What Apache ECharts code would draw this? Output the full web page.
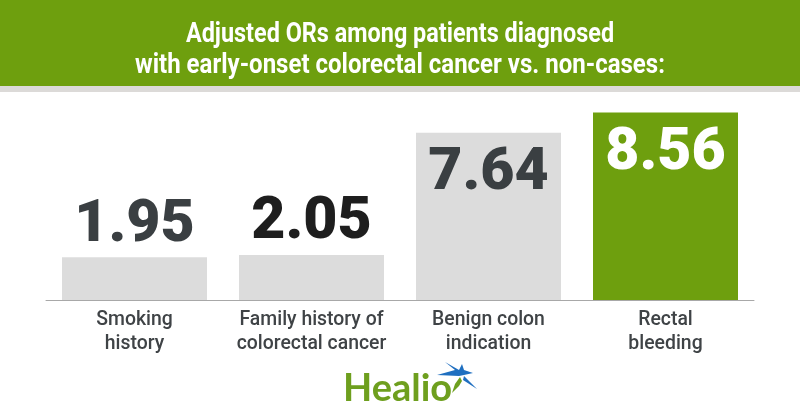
<!DOCTYPE html>
<html><head><meta charset="utf-8">
<style>html,body{margin:0;padding:0;background:#fff}#c{width:800px;height:419px}</style>
<script src="https://cdn.jsdelivr.net/npm/echarts@6/dist/echarts.min.js"></script>
</head><body><div id="c"></div>
<script>
const categories = ['Smoking\nhistory','Family history of\ncolorectal cancer','Benign colon\nindication','Rectal\nbleeding'];
const values = [1.95,2.05,7.64,8.56];
const barColors = ['#dcdcdc','#dcdcdc','#dcdcdc','#6e9f0e'];
const labelColors = ['#3a3f42','#1e1e1e','#3a3f42','#ffffff'];
const titleLines = ['Adjusted ORs among patients diagnosed','with early-onset colorectal cancer vs. non-cases:'];
const chart = echarts.init(document.getElementById('c'),null,{renderer:'canvas'});
const titleText = (t,y,sx)=>({type:'text',x:400,y,scaleX:sx,z:10,
  style:{text:t,fill:'#fff',font:'700 27.5px Roboto',textAlign:'center',textVerticalAlign:'middle'}});
chart.setOption({
  animation:false,
  backgroundColor:'#fff',
  grid:{left:46,right:46,top:112.5,height:187.5},
  xAxis:{type:'category',data:categories,
    axisLine:{lineStyle:{color:'#a8a8a8',width:1}},axisTick:{show:false},
    axisLabel:{color:'#3f4346',fontFamily:'Roboto',fontSize:19.4,lineHeight:24,margin:8,interval:0,fontWeight:500}},
  yAxis:{type:'value',min:0,max:8.56,show:false,splitLine:{show:false}},
  series:[{type:'bar',barWidth:145,silent:true,
    data:values.map((v,i)=>({value:v,itemStyle:{color:barColors[i]},
      label:{show:true,position:i>=2?'insideTop':'top',distance:i>=2?12:2,
        color:labelColors[i],fontFamily:'Roboto',fontWeight:900,fontSize:59,
        formatter:v.toFixed(2)}}))}],
  graphic:[
    {type:'rect',shape:{x:0,y:0,width:800,height:86},style:{fill:'#6e9f0e'},z:5},
    {type:'rect',shape:{x:0,y:86,width:800,height:6},style:{fill:'#dcdad8'},z:5},
    titleText(titleLines[0],35,0.852),
    titleText(titleLines[1],66,0.873),
    {type:'text',x:343,y:370,z:10,style:{text:'Healio',fill:'#6e9f1e',font:'700 38px Lato',textVerticalAlign:'top'}},
    {type:'polygon',z:11,shape:{points:[[445,362],[459,370],[462,364],[464,370],[473,373],[464,375],[459,376],[437,375],[455,370]]},style:{fill:'#1f6fc0'}},
    {type:'polygon',z:11,shape:{points:[[464,376],[477,389],[463,380]]},style:{fill:'#1f6fc0'}},
    {type:'polygon',z:11,shape:{points:[[460,377],[462,381],[459,386],[452,393],[455,384]]},style:{fill:'#6e9f1e'}}
  ]
});
</script></body></html>
